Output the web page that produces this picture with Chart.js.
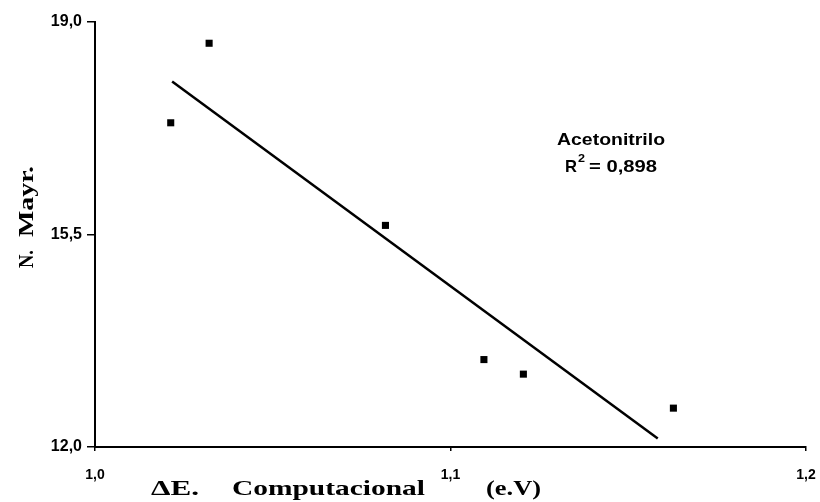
<!DOCTYPE html>
<html>
<head>
<meta charset="utf-8">
<script src="https://cdn.jsdelivr.net/npm/chart.js@4.4.1/dist/chart.umd.min.js"></script>
<style>
html,body{margin:0;padding:0;background:#fff;}
#wrap{width:820px;height:502px;position:relative;}
</style>
</head>
<body>
<div id="wrap"><canvas id="c" width="820" height="502"></canvas></div>
<script>
// Data
const energyGap = [1.0213, 1.0321, 1.0817, 1.1094, 1.1205, 1.1627];
const mayrN = [17.34, 18.65, 15.65, 13.44, 13.20, 12.64];
const trendX = [1.0217, 1.1583];
const trendY = [18.02, 12.14];
const xTickValues = [1.0, 1.1, 1.2];
const yTickValues = [12.0, 15.5, 19.0];
const solventLabel = 'Acetonitrilo';
const r2Value = '0,898';

const fmt = v => Number(v).toFixed(1).replace('.', ',');

function fitText(ctx, text, x, y, width) {
  const m = ctx.measureText(text).width;
  ctx.save();
  ctx.translate(x, y);
  ctx.scale(width / m, 1);
  ctx.fillText(text, 0, 0);
  ctx.restore();
}

const textPlugin = {
  id: 'texts',
  afterDraw(chart) {
    const ctx = chart.ctx;
    ctx.save();
    ctx.fillStyle = '#000';
    ctx.textBaseline = 'alphabetic';
    ctx.textAlign = 'left';
    // x axis title
    ctx.font = 'bold 22px "Liberation Serif", "Times New Roman", serif';
    fitText(ctx, 'ΔE.', 151, 495, 48);
    fitText(ctx, 'Computacional', 232, 495, 193);
    fitText(ctx, '(e.V)', 486, 495, 55);
    // y axis title
    ctx.save();
    ctx.translate(33, 268);
    ctx.rotate(-Math.PI / 2);
    fitText(ctx, 'N.', 0, 0, 18);
    fitText(ctx, 'Mayr.', 31, 0, 71);
    ctx.restore();
    // annotation
    ctx.font = 'bold 17px "Liberation Sans", Arial, sans-serif';
    fitText(ctx, solventLabel, 557, 145, 108);
    fitText(ctx, 'R', 565, 172, 12);
    ctx.font = 'bold 11px "Liberation Sans", Arial, sans-serif';
    fitText(ctx, '2', 578, 162, 7);
    ctx.font = 'bold 17px "Liberation Sans", Arial, sans-serif';
    fitText(ctx, '= ' + r2Value, 589, 172, 68);
    ctx.restore();
  }
};

new Chart(document.getElementById('c'), {
  type: 'scatter',
  data: {
    datasets: [
      {
        label: 'data',
        data: energyGap.map((x, i) => ({x: x, y: mayrN[i]})),
        pointStyle: 'rect',
        pointRadius: 5,
        pointHoverRadius: 5,
        backgroundColor: '#000',
        borderColor: '#000',
        borderWidth: 0,
        showLine: false
      },
      {
        label: 'trend',
        type: 'line',
        data: trendX.map((x, i) => ({x: x, y: trendY[i]})),
        borderColor: '#000',
        borderWidth: 2.5,
        pointRadius: 0,
        fill: false
      }
    ]
  },
  options: {
    responsive: false,
    animation: false,
    devicePixelRatio: 1,
    layout: {padding: {top: 22, right: 0, left: 0, bottom: 0}},
    plugins: {legend: {display: false}, tooltip: {enabled: false}},
    scales: {
      x: {
        type: 'linear',
        min: 1.0,
        max: 1.2,
        afterBuildTicks: s => { s.ticks = xTickValues.map(v => ({value: v})); },
        afterFit: s => { s.height = 55; s.paddingRight = 14; s.paddingLeft = 0; },
        border: {display: true, color: '#000', width: 2},
        grid: {display: true, drawOnChartArea: false, drawTicks: true, tickLength: 4, color: '#000', lineWidth: 1.5},
        ticks: {
          color: '#000',
          padding: 16,
          maxRotation: 0,
          font: {family: '"Liberation Sans", Arial, sans-serif', size: 14, weight: 'bold'},
          callback: v => fmt(v)
        }
      },
      y: {
        type: 'linear',
        min: 12.0,
        max: 19.0,
        afterBuildTicks: s => { s.ticks = yTickValues.map(v => ({value: v})); },
        afterFit: s => { s.width = 95; },
        border: {display: true, color: '#000', width: 2},
        grid: {display: true, drawOnChartArea: false, drawTicks: true, tickLength: 8, color: '#000', lineWidth: 1.5},
        ticks: {
          color: '#000',
          padding: 5,
          font: {family: '"Liberation Sans", Arial, sans-serif', size: 16, weight: 'bold'},
          callback: v => fmt(v)
        }
      }
    }
  },
  plugins: [textPlugin]
});
</script>
</body>
</html>
